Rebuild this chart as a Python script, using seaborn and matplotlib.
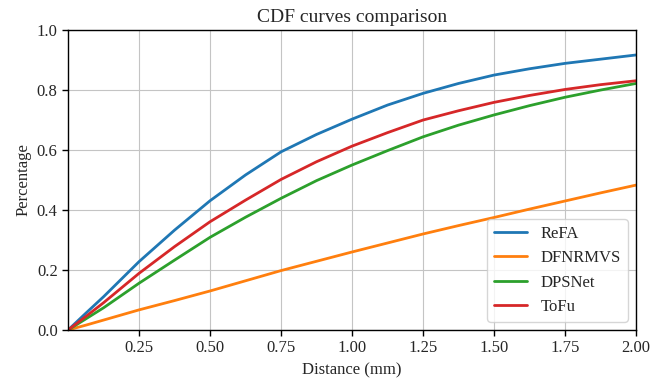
import numpy as np
import pandas as pd
import seaborn as sns
import matplotlib.pyplot as plt

# Values
DIST = [0.0, 0.0625, 0.125, 0.25, 0.375, 0.5, 0.625, 0.75, 0.875, 1.0,
        1.125, 1.25, 1.375, 1.5, 1.625, 1.75, 1.875, 2.0]
REFA = [0.0, 0.056, 0.111, 0.228, 0.333, 0.431, 0.517, 0.594, 0.652, 0.703,
        0.75, 0.789, 0.822, 0.85, 0.871, 0.889, 0.903, 0.917]
DFNRMVS = [0.0, 0.016, 0.033, 0.067, 0.098, 0.13, 0.164, 0.198, 0.229, 0.26,
           0.29, 0.32, 0.348, 0.375, 0.403, 0.43, 0.457, 0.483]
DPSNET = [0.0, 0.037, 0.074, 0.156, 0.233, 0.309, 0.376, 0.439, 0.498, 0.55,
          0.598, 0.644, 0.683, 0.717, 0.748, 0.776, 0.80, 0.822]
TOFU = [0.0, 0.045, 0.091, 0.189, 0.278, 0.361, 0.433, 0.502, 0.561, 0.613,
        0.658, 0.70, 0.731, 0.759, 0.782, 0.802, 0.818, 0.831]
METHODS = ["ReFA", "DFNRMVS", "DPSNet", "ToFu"]
X_TICKS = [0.25, 0.50, 0.75, 1.00, 1.25, 1.50, 1.75, 2.00]

sns.set_style("whitegrid", {
    "axes.edgecolor": "black",
    "grid.color": "#c4c4c4",
    "xtick.bottom": True,
    "ytick.left": True,
})
plt.rcParams["font.family"] = ["Liberation Serif", "DejaVu Serif"]

df = pd.DataFrame({
    "Distance": DIST * 4,
    "Percentage": REFA + DFNRMVS + DPSNET + TOFU,
    "Method": sum([[m] * len(DIST) for m in METHODS], []),
})

fig = plt.figure(figsize=(6.68, 3.81), dpi=100)
ax = fig.add_axes([0.102, 0.134, 0.85, 0.787])

sns.lineplot(
    data=df, x="Distance", y="Percentage", hue="Method",
    palette=["#1f77b4", "#ff7f0e", "#2ca02c", "#d62728"],
    linewidth=2, ax=ax,
)

ax.set_xlim(0, 2)
ax.set_ylim(0, 1)
ax.set_xticks(X_TICKS)
ax.set_xticklabels([f"{t:.2f}" for t in X_TICKS])
ax.set_yticks([0.0, 0.2, 0.4, 0.6, 0.8, 1.0])
ax.tick_params(labelsize=12, length=4, width=1, color="black", direction="out")
for s in ax.spines.values():
    s.set_linewidth(1)
    s.set_color("black")

ax.set_title("CDF curves comparison", fontsize=14)
ax.set_xlabel("Distance (mm)", fontsize=12)
ax.set_ylabel("Percentage", fontsize=12)

ax.legend(title=None, loc="lower right", fontsize=12, frameon=True)

fig.savefig("out.png", dpi=100)
